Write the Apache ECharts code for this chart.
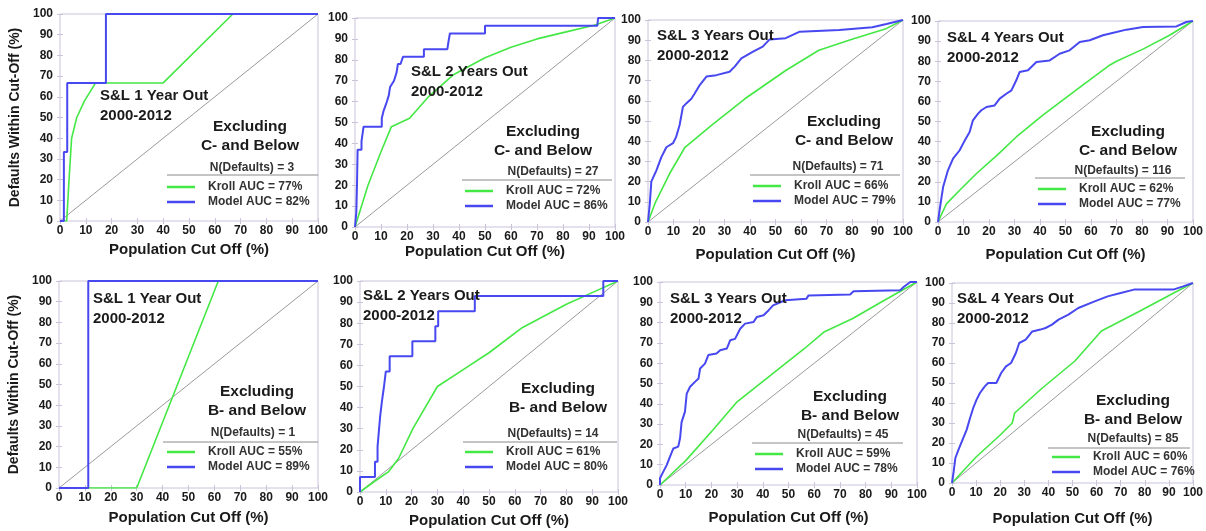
<!DOCTYPE html>
<html>
<head>
<meta charset="utf-8">
<script src="https://cdn.jsdelivr.net/npm/echarts@6/dist/echarts.min.js"></script>
<style>
html,body{margin:0;padding:0;background:#fff;}
#chart{width:1206px;height:531px;}
</style>
</head>
<body>
<div id="chart"></div>
<script>
// ---------- DATA ----------
const tickValues = [0, 10, 20, 30, 40, 50, 60, 70, 80, 90, 100];
const panelTitles = ['S&L 1 Year Out', 'S&L 2 Years Out', 'S&L 3 Years Out', 'S&L 4 Years Out',
                     'S&L 1 Year Out', 'S&L 2 Years Out', 'S&L 3 Years Out', 'S&L 4 Years Out'];
const period = '2000-2012';
const exclusions = ['C- and Below', 'C- and Below', 'C- and Below', 'C- and Below',
                    'B- and Below', 'B- and Below', 'B- and Below', 'B- and Below'];
const nDefaults = [3, 27, 71, 116, 1, 14, 45, 85];
const krollAUC = [77, 72, 66, 62, 55, 61, 59, 60];
const modelAUC = [82, 86, 79, 77, 89, 80, 78, 76];
const diagonal = [[0, 0], [100, 100]];

const p1Kroll = [[0,0],[2.6,0],[3.5,20],[4.5,40],[6.5,50],[9.5,58],[13.8,66.7],[40,66.7],[67,100],[100,100]];
const p1Model = [[0,0],[1.5,0],[1.5,33.3],[2.8,33.3],[2.8,66.7],[17.8,66.7],[17.8,100],[100,100]];

const p2Kroll = [[0,0],[5,20],[10,36],[14,48],[21,52],[28,62],[38,73],[50,81],[60,86],[70,90],[80,93],[92,96.5],[100,100]];
const p2Model = [[0,0],[0.5,7],[0.8,22],[1,37],[2.5,37],[2.5,41],[3.3,48],[10.3,48],[10.3,52],[11,55.6],[12,59],[13,63],[13.5,67],[15,70],[16,74],[16.5,78],[17.5,78],[18.5,81.5],[26.5,81.5],[26.5,85],[35.5,85],[36,89],[36.5,92.6],[50,92.6],[50,96.3],[93.2,96.3],[93.5,100],[100,100]];

const p3Kroll = [[0,0],[3,10],[8.5,24],[14.5,37],[25,48],[38,61],[54,75],[67,85],[80,90.5],[93,95.5],[100,100]];
const p3Model = [[0,0],[0.7,9],[1.3,20],[3.3,25.6],[5.2,32],[7.2,37],[9.8,39],[11,42],[12.4,48],[13.7,57],[15,58.7],[17,61],[18.3,63.6],[20.3,67.8],[22.9,72],[26.8,72.7],[32,74.4],[34,76.9],[36.6,81],[41.2,84.3],[45,86.8],[47.7,90.4],[54,91],[59.5,94.2],[75,95],[88,96.4],[93.5,98],[100,100]];

const p4Kroll = [[0,0],[3.3,9],[8.5,15.8],[15,24],[23,33],[30.7,42.3],[41,53],[54,65.5],[67.3,78],[70,80],[80.4,86],[90.8,92.9],[100,100]];
const p4Model = [[0,0],[0.7,6.6],[2,17.4],[3.9,25.7],[5.9,31.5],[8.5,35.7],[10.5,40.6],[12.4,44.8],[13.7,50.6],[15.7,53.9],[17,55.6],[19,57.2],[22.2,58],[24.2,61.4],[26.8,63.8],[28.8,65.5],[30.7,70.5],[32,74.6],[35.3,75.5],[38.6,79.6],[43.8,80.4],[47.7,83.7],[51.6,85.4],[55.6,89.6],[59.5,90.4],[64.7,92.9],[70,94.5],[73.9,95.7],[80.4,97],[93.5,97.3],[97.4,99.5],[100,100]];

const p5Kroll = [[0,0],[30,0],[61.5,100],[100,100]];
const p5Model = [[0,0],[11.3,0],[11.3,100],[100,100]];

const p6Kroll = [[0,0],[5,4.5],[11,9.5],[15,16],[20.5,30],[30,50],[40,58],[50,66],[63,78],[80,89],[90,94.5],[100,100]];
const p6Model = [[0,0],[0,7.1],[5.8,7.1],[5.8,14.3],[6.8,14.3],[6.8,21.4],[7.3,28.6],[7.8,35.7],[8.5,42.9],[9.3,50],[10,57.1],[11.5,57.1],[11.5,64.3],[20.3,64.3],[20.3,71.4],[29.2,71.4],[29.2,78.6],[30.3,78.6],[30.3,85.7],[44.5,85.7],[44.5,92.9],[94.3,92.9],[94.3,100],[100,100]];

const p7Kroll = [[0,0],[10,12],[20.5,27],[30,41],[43,54],[56,67],[64,75.5],[75,82],[88,91.5],[100,100]];
const p7Model = [[0,0],[0,3.3],[1.3,6.6],[2.6,9.8],[3.9,14],[5.2,18],[7.1,18.9],[7.8,23],[8.4,31],[9.7,36],[10.4,45],[11.7,48.4],[13.6,50.8],[15,52.5],[15.6,57.4],[17.5,59.8],[18.8,64],[22,64.8],[23.4,66.4],[26,67.2],[27.3,71.3],[29.2,72],[31.2,77],[33.1,79.5],[36.4,80.3],[37.7,82.8],[40.3,83.6],[42.2,86],[44,88.5],[48.7,91],[57,91.8],[57.8,93.4],[74,93.8],[75.3,95.4],[93.5,95.9],[94.8,97.5],[97.4,100],[100,100]];

const p8Kroll = [[0,0],[10,13],[20,24],[25,30],[26,35],[37,47],[51,61],[62,76],[78,86],[92,95],[100,100]];
const p8Model = [[0,0],[0.7,5.8],[1.4,12.5],[2.7,16.7],[4.1,20.8],[6.1,26.7],[7.5,32.5],[8.8,37.5],[10.2,41.7],[11.6,45],[13.6,48.3],[15,50],[18.4,50],[20.4,55],[22.4,58.3],[24.5,60],[26.5,65],[27.9,70],[30.6,71.7],[33.3,75.8],[36.7,76.7],[38.8,77.5],[41.5,79.2],[44.2,81.7],[48.3,84.2],[52.4,87.5],[59.2,90.8],[64.6,93.3],[70,95],[75.5,96.7],[91.8,96.7],[95.9,98.3],[100,100]];

const krollSeries = [p1Kroll, p2Kroll, p3Kroll, p4Kroll, p5Kroll, p6Kroll, p7Kroll, p8Kroll];
const modelSeries = [p1Model, p2Model, p3Model, p4Model, p5Model, p6Model, p7Model, p8Model];

// ---------- LAYOUT (pixels) ----------
const boxes = [
  [60, 14, 258, 207], [355, 18, 260, 209], [648, 20, 255, 202], [938, 21, 255, 201],
  [59, 281, 259, 207], [360, 281, 258, 211], [660, 282, 257, 203], [952, 283, 245, 200]
];
const xNameGap = [21, 13, 25, 25, 22, 21, 25, 28];
const notes = [
  {tx:100, ty:86,  ex:250,  ey:117, nx:252,  ny:168, l1:167,  l2:318,  ly:175, gx:167,  gy:181},
  {tx:411, ty:62,  ex:543,  ey:122, nx:553,  ny:172, l1:462,  l2:612,  ly:180, gx:465,  gy:185},
  {tx:657, ty:26,  ex:844,  ey:112, nx:838,  ny:167, l1:750,  l2:900,  ly:175, gx:753,  gy:180},
  {tx:947, ty:28,  ex:1128, ey:122, nx:1123, ny:171, l1:1035, l2:1185, ly:178, gx:1038, gy:183},
  {tx:93,  ty:289, ex:257,  ey:382, nx:253,  ny:433, l1:163,  l2:318,  ly:442, gx:167,  gy:446},
  {tx:363, ty:286, ex:558,  ey:379, nx:553,  ny:434, l1:463,  l2:617,  ly:442, gx:465,  gy:446},
  {tx:670, ty:289, ex:850,  ey:387, nx:843,  ny:435, l1:752,  l2:903,  ly:443, gx:755,  gy:448},
  {tx:957, ty:289, ex:1133, ey:391, nx:1133, ny:439, l1:1048, l2:1190, ly:448, gx:1052, gy:451}
];

const FONT = '"Liberation Sans", Arial, Helvetica, sans-serif';
const GREEN = '#44e844';
const BLUE = '#4848f0';
const BORDER = '#cbc3da';

const grids = [], xAxes = [], yAxes = [], series = [], legends = [], graphics = [];

boxes.forEach((b, i) => {
  grids.push({left: b[0], top: b[1], width: b[2], height: b[3], show: true,
              borderColor: BORDER, borderWidth: 1, backgroundColor: '#fff', containLabel: false});
  const labelStyle = {fontSize: 12, fontWeight: 'bold', color: '#1a1a1a', fontFamily: FONT};
  xAxes.push({
    gridIndex: i, type: 'value', min: tickValues[0], max: tickValues[tickValues.length - 1],
    interval: tickValues[1] - tickValues[0], position: 'bottom',
    axisLine: {show: false}, splitLine: {show: false},
    axisTick: {show: true, inside: true, length: 3, lineStyle: {color: BORDER}},
    axisLabel: Object.assign({margin: 4, showMinLabel: true, showMaxLabel: true}, labelStyle),
    name: 'Population Cut Off (%)', nameLocation: 'middle', nameGap: xNameGap[i],
    nameTextStyle: {fontSize: 15, fontWeight: 'bold', color: '#1a1a1a', fontFamily: FONT}
  });
  xAxes.push({
    gridIndex: i, type: 'value', min: 0, max: 100, interval: 10, position: 'top',
    axisLine: {show: false}, splitLine: {show: false}, axisLabel: {show: false},
    axisTick: {show: true, inside: true, length: 3, lineStyle: {color: BORDER}}
  });
  const yMain = {
    gridIndex: i, type: 'value', min: tickValues[0], max: tickValues[tickValues.length - 1],
    interval: tickValues[1] - tickValues[0], position: 'left',
    axisLine: {show: false}, splitLine: {show: false},
    axisTick: {show: true, inside: true, length: 3, lineStyle: {color: BORDER}},
    axisLabel: Object.assign({margin: 7}, labelStyle)
  };
  if (i === 0 || i === 4) {
    Object.assign(yMain, {
      name: 'Defaults Within Cut-Off (%)', nameLocation: 'middle', nameGap: 38, nameRotate: 90,
      nameTextStyle: {fontSize: 14, fontWeight: 'bold', color: '#1a1a1a', fontFamily: FONT}
    });
  }
  yAxes.push(yMain);
  yAxes.push({
    gridIndex: i, type: 'value', min: 0, max: 100, interval: 10, position: 'right',
    axisLine: {show: false}, splitLine: {show: false}, axisLabel: {show: false},
    axisTick: {show: true, inside: true, length: 3, lineStyle: {color: BORDER}}
  });

  const kName = 'Kroll AUC = ' + krollAUC[i] + '%';
  const mName = 'Model AUC = ' + modelAUC[i] + '%';
  series.push({
    type: 'line', xAxisIndex: 2 * i, yAxisIndex: 2 * i, data: diagonal, symbol: 'none',
    silent: true, lineStyle: {color: '#9a9a9a', width: 1}, z: 2
  });
  series.push({
    name: kName, type: 'line', xAxisIndex: 2 * i, yAxisIndex: 2 * i, data: krollSeries[i],
    symbol: 'none', lineStyle: {color: GREEN, width: 1.6}, itemStyle: {color: GREEN}, z: 3
  });
  series.push({
    name: mName, type: 'line', xAxisIndex: 2 * i, yAxisIndex: 2 * i, data: modelSeries[i],
    symbol: 'none', lineStyle: {color: BLUE, width: 2}, itemStyle: {color: BLUE}, z: 4
  });

  const n = notes[i];
  legends.push({
    data: [kName, mName], orient: 'vertical', left: n.gx, top: n.gy,
    icon: 'rect', itemWidth: 28, itemHeight: 2.5, itemGap: 3, selectedMode: false,
    padding: 0,
    textStyle: {fontSize: 12, fontWeight: 'bold', color: '#333', fontFamily: FONT, padding: [0, 0, 0, 8]}
  });

  graphics.push({
    type: 'text', left: n.tx, top: n.ty, z: 10,
    style: {text: panelTitles[i] + '\n' + period, font: 'bold 15px ' + FONT, fill: '#1a1a1a', lineHeight: 20}
  });
  graphics.push({
    type: 'text', x: n.ex, y: n.ey, z: 10,
    style: {text: 'Excluding\n' + exclusions[i], font: 'bold 15.5px ' + FONT, fill: '#1a1a1a',
            lineHeight: 19, align: 'center', textAlign: 'center', verticalAlign: 'top', textVerticalAlign: 'top'}
  });
  graphics.push({
    type: 'text', x: n.nx, y: n.ny, z: 10,
    style: {text: 'N(Defaults) = ' + nDefaults[i], font: 'bold 12px ' + FONT, fill: '#333',
            align: 'center', textAlign: 'center', verticalAlign: 'middle', textVerticalAlign: 'middle'}
  });
  graphics.push({
    type: 'line', z: 10,
    shape: {x1: n.l1, y1: n.ly, x2: n.l2, y2: n.ly},
    style: {stroke: '#8a8a8a', lineWidth: 1}
  });
});

const chart = echarts.init(document.getElementById('chart'), null, {renderer: 'canvas'});
chart.setOption({
  animation: false,
  backgroundColor: '#fff',
  grid: grids,
  xAxis: xAxes,
  yAxis: yAxes,
  legend: legends,
  series: series,
  graphic: graphics
});
</script>
</body>
</html>
